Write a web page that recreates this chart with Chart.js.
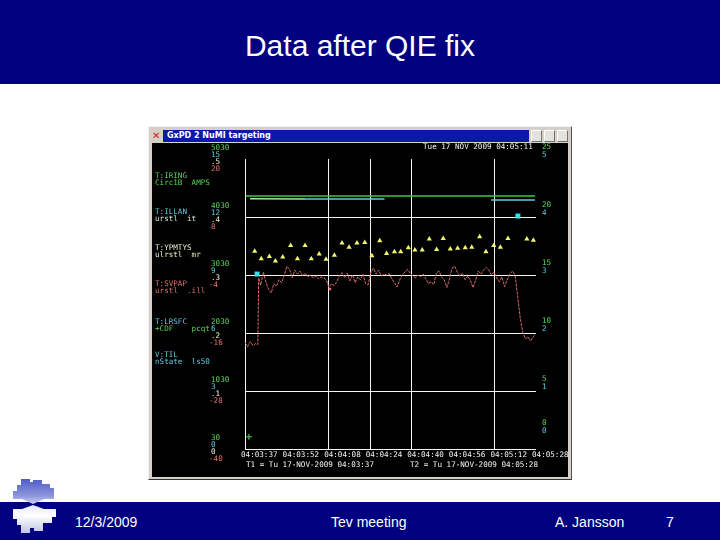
<!DOCTYPE html>
<html>
<head>
<meta charset="utf-8">
<title>Data after QIE fix</title>
<script src="https://cdn.jsdelivr.net/npm/chart.js@4.4.1/dist/chart.umd.min.js"></script>
<style>
    html, body { margin: 0; padding: 0; background: #fff; }
    #slide { position: relative; width: 720px; height: 540px; overflow: hidden; background: #fff;
             font-family: "Liberation Sans", Arial, sans-serif; }
    #header { position: absolute; left: 0; top: 0; width: 720px; height: 84px; background: #000080; }
    #header h1 { margin: 0; position: absolute; left: 0; top: 29px; width: 720px; text-align: center;
                 color: #fff; font-weight: normal; font-size: 30px; line-height: 34px; }
    #footer { position: absolute; left: 0; top: 502px; width: 720px; height: 38px; background: #000080;
              color: #fff; font-size: 14px; line-height: 38px; }
    #footer span { position: absolute; top: 1px; }
    #logo { position: absolute; left: 6px; top: 479px; }
    #window { position: absolute; left: 148px; top: 126px; width: 422px; height: 352px; background: #d4d0c8;
              border: 1px solid #f4f4f4; border-right-color: #505050; border-bottom-color: #303030; }
    #titlebar { position: absolute; left: 14px; top: 3px; width: 366px; height: 12px; background: #0c18a8;
                color: #fff; font: bold 8px "DejaVu Sans", sans-serif; line-height: 12px; }
    #titlebar span { margin-left: 4px; }
    #closeicon { position: absolute; left: 3px; top: 3px; width: 10px; height: 12px; color: #d02020;
                 font: bold 10px "DejaVu Sans", sans-serif; line-height: 12px; }
    .wbtn { position: absolute; top: 3px; width: 9px; height: 10px; background: #e4e2dc;
            border: 1px solid #fff; border-right-color: #707070; border-bottom-color: #707070; }
    #plotCanvas { position: absolute; left: 3px; top: 16px; }
</style>
</head>
<body>
<div id="slide">
    <div id="header"><h1>Data after QIE fix</h1></div>
    <div id="footer">
        <span style="left:75px">12/3/2009</span>
        <span style="left:331px">Tev meeting</span>
        <span style="left:555px">A. Jansson</span>
        <span style="left:666px">7</span>
    </div>
    <svg id="logo" width="56" height="56" viewBox="0 0 56 56">
        <defs>
            <linearGradient id="lg" x1="0" y1="0" x2="0" y2="56" gradientUnits="userSpaceOnUse">
                <stop offset="0" stop-color="#4f5cc6"/>
                <stop offset="0.3" stop-color="#8c96dc"/>
                <stop offset="0.5" stop-color="#e8eaf8"/>
                <stop offset="0.65" stop-color="#ffffff"/>
                <stop offset="1" stop-color="#b8bee0"/>
            </linearGradient>
        </defs>
        <path fill="url(#lg)" d="M15,0 L24,0 L24,3 L27,3 L27,1 L36,1 L36,5 L44,5 L44,9 L48,9 L48,20 L38,20 L27,25 L16,20 L7,20 L7,12 L11,12 L11,6 L15,6 Z"/>
        <path fill="url(#lg)" d="M7,30 L16,30 L27,26 L38,30 L50,30 L50,38 L46,38 L46,44 L37,44 L37,52 L28,52 L28,49 L24,49 L24,54 L15,54 L15,46 L11,46 L11,40 L7,40 Z"/>
    </svg>
    <div id="window">
        <div id="closeicon">✕</div>
        <div id="titlebar"><span>GxPD 2 NuMI targeting</span></div>
        <div class="wbtn" style="left:382px"></div>
        <div class="wbtn" style="left:395px"></div>
        <div class="wbtn" style="left:408px"></div>
        <canvas id="plotCanvas" width="416" height="334"></canvas>
    </div>
</div>

<script>
// Plot span: T1 = 04:03:37 to T2 = 04:05:28 (seconds from T1)
const spanSeconds = 111;
const timeTickLabels = ['04:03:37', '04:03:52', '04:04:08', '04:04:24', '04:04:40', '04:04:56', '04:05:12', '04:05:28'];
const gridTimeIndex = [0, 2, 3, 4, 6];

// Left axis scales, one per pen (top to bottom)
const greenTickValues = [5030, 4030, 3030, 2030, 1030, 30];
const cyanTickValues = [15, 12, 9, 6, 3, 0];
const yellowTickValues = [0.5, 0.4, 0.3, 0.2, 0.1, 0];
const redTickValues = [20, 8, -4, -16, -28, -40];
const greenTickLabels = ['5030', '4030', '3030', '2030', '1030', '30'];
const cyanTickLabels = ['15', '12', '9', '6', '3', '0'];
const yellowTickLabels = ['.5', '.4', '.3', '.2', '.1', '0'];
const redTickLabels = ['20', '8', '-4', '-16', '-28', '-40'];

// Right axis labels
const rightGreenLabels = ['25', '20', '15', '10', '5', '0'];
const rightCyanLabels = ['5', '4', '3', '2', '1', '0'];

// Channel names shown on the left
const channelNames = [
    ['T:IRING', 'Circ1B  AMPS'],
    ['T:ILLAN', 'urstl  it'],
    ['T:YPMTYS', 'ulrstl  mr'],
    ['T:SVPAP', 'urstl  .ill'],
    ['T:LRSFC', '+CDF    pcqt'],
    ['V:TIL', 'nState  ls50']
];

// Green pen (flat line)
const greenTimes = [0.3, 110.6];
const greenValues = [4392, 4392];

// Cyan pen (flat line with a gap)
const cyanTimes = [1.9, 22.9, 53.2, null, 93.9, 110.6];
const cyanValues = [12.95, 12.93, 12.93, null, 12.88, 12.88];

// Cyan markers
const cyanDotTimes = [4.6, 104.1];
const cyanDotValues = [9.05, 12.05];

// Yellow triangles
const yellowTimes = [3.7, 6.2, 9.3, 11.6, 14.4, 17.4, 20.0, 22.9, 25.3, 28.3, 30.9, 34.1, 37.0, 39.7,
    42.7, 45.7, 48.4, 51.4, 54.0, 57.0, 59.4, 62.3, 64.8, 67.6, 70.3, 73.1, 75.6, 78.3, 81.1, 84.0,
    86.5, 89.5, 91.9, 94.9, 97.4, 100.3, 107.5, 110.0];
const yellowValues = [0.341, 0.328, 0.332, 0.324, 0.331, 0.351, 0.328, 0.351, 0.328, 0.336, 0.327,
    0.334, 0.355, 0.348, 0.355, 0.356, 0.333, 0.359, 0.337, 0.340, 0.340, 0.347, 0.343, 0.343, 0.362,
    0.344, 0.363, 0.345, 0.346, 0.347, 0.348, 0.366, 0.340, 0.351, 0.348, 0.363, 0.362, 0.360];

// Red pen (noisy trace)
const redTimes = [0, 1, 2, 3, 4, 4.9, 5.2, 6, 7, 8, 9, 10, 11, 12, 13, 14, 15, 16, 17, 18, 19, 20,
    21, 22, 23, 24, 25, 26, 27, 28, 29, 30, 31, 32, 33, 34, 35, 36, 37, 38, 39, 40, 41, 42, 43, 44,
    45, 46, 47, 48, 49, 50, 51, 52, 53, 54, 55, 56, 57, 58, 59, 60, 61, 62, 63, 64, 65, 66, 67, 68,
    69, 70, 71, 72, 73, 74, 75, 76, 77, 78, 79, 80, 81, 82, 83, 84, 85, 86, 87, 88, 89, 90, 91, 92,
    93, 94, 95, 96, 97, 98, 99, 100, 101, 102, 103, 104, 105, 106, 107, 108, 109, 110, 110.6];
const redValues = [-18.0, -18.8, -17.8, -18.6, -18.2, -18.4, -4.6, -6.1, -3.4, -5.5, -7.0, -7.7,
    -5.8, -6.3, -5.0, -5.6, -4.0, -2.2, -2.8, -4.6, -3.0, -3.8, -3.2, -4.2, -3.6, -4.4, -4.0, -4.6,
    -4.2, -4.8, -4.4, -4.6, -5.0, -6.5, -5.8, -6.2, -5.4, -4.2, -3.5, -4.6, -3.6, -5.2, -4.0, -5.6,
    -4.4, -5.0, -3.8, -5.8, -6.0, -3.4, -2.6, -3.8, -3.0, -4.2, -3.8, -4.0, -3.7, -4.8, -5.6, -6.5,
    -5.0, -4.0, -3.4, -2.8, -3.6, -4.2, -4.6, -4.0, -4.4, -3.8, -4.8, -5.8, -5.4, -6.0, -3.6, -3.2,
    -4.4, -5.0, -6.6, -4.8, -2.6, -2.2, -3.4, -4.2, -3.6, -5.0, -4.2, -5.2, -6.6, -5.0, -3.2, -3.8,
    -3.0, -2.4, -3.0, -4.0, -3.4, -4.6, -5.4, -4.4, -6.4, -5.0, -3.8, -3.2, -4.0, -8.4, -13.0, -16.0,
    -17.2, -16.8, -17.6, -16.8, -16.4];

// Single markers
const redMarkTimes = [32.4];
const redMarkValues = [-6.9];
const greenMarkTimes = [1.5];
const greenMarkValues = [240];

const COLORS = {
    green: '#5ad45a',
    greenLine: '#3cc83c',
    cyan: '#5ccce0',
    cyanDot: '#3ce0ec',
    paleGreen: '#9ee6a8',
    yellow: '#f4f470',
    yellowText: '#eeeec8',
    red: '#e27070',
    redLine: '#d86a6a',
    white: '#f4f4f4'
};
const MONO = '7.6px "DejaVu Sans Mono", monospace';

function toPoints(times, values) {
    return times.map((t, i) => (t === null ? { x: null, y: null } : { x: t, y: values[i] }));
}

// Black background, grid and ACNET-style labels
const acnetPlugin = {
    id: 'acnet',
    beforeDraw(chart) {
        const ctx = chart.ctx;
        ctx.save();
        ctx.fillStyle = '#000';
        ctx.fillRect(0, 0, chart.width, chart.height);
        ctx.restore();
    },
    beforeDatasetsDraw(chart) {
        const { ctx, chartArea: area, scales } = chart;
        ctx.save();
        ctx.strokeStyle = COLORS.white;
        ctx.lineWidth = 1;
        ctx.beginPath();
        gridTimeIndex.forEach(i => {
            const x = Math.round(scales.x.getPixelForValue(i * spanSeconds / 7)) + 0.5;
            ctx.moveTo(x, area.top);
            ctx.lineTo(x, area.bottom);
        });
        for (let i = 1; i < redTickValues.length; i++) {
            const y = Math.round(scales.yR.getPixelForValue(redTickValues[i])) + 0.5;
            ctx.moveTo(area.left, y);
            ctx.lineTo(area.right, y);
        }
        ctx.stroke();
        ctx.restore();
    },
    afterDatasetsDraw(chart) {
        const { ctx, chartArea: area, scales } = chart;
        ctx.save();
        ctx.font = MONO;
        ctx.textBaseline = 'middle';
        ctx.textAlign = 'left';

        // Per-row axis values on the left
        const valueX = 59;
        for (let i = 0; i < redTickValues.length; i++) {
            ctx.fillStyle = COLORS.green;
            ctx.fillText(greenTickLabels[i], valueX, scales.yG.getPixelForValue(greenTickValues[i]) - 11);
            ctx.fillStyle = COLORS.cyan;
            ctx.fillText(cyanTickLabels[i], valueX, scales.yC.getPixelForValue(cyanTickValues[i]) - 3.5);
            ctx.fillStyle = COLORS.yellowText;
            ctx.fillText(yellowTickLabels[i], valueX, scales.yY.getPixelForValue(yellowTickValues[i]) + 3.5);
            ctx.fillStyle = COLORS.red;
            const rl = redTickLabels[i];
            ctx.fillText(rl, rl.startsWith('-') ? valueX - 2 : valueX, scales.yR.getPixelForValue(redTickValues[i]) + 10.5);
        }

        // Right side labels
        const rightX = area.right + 6;
        for (let i = 0; i < rightGreenLabels.length; i++) {
            const base = scales.yR.getPixelForValue(redTickValues[i]) - (i === rightGreenLabels.length - 1 ? 14 : 0);
            ctx.fillStyle = COLORS.green;
            ctx.fillText(rightGreenLabels[i], rightX, base - 11.5);
            ctx.fillStyle = COLORS.cyan;
            ctx.fillText(rightCyanLabels[i], rightX, base - 3.5);
        }

        // Channel names
        const nameY = [33, 69, 105, 141, 179, 212];
        const nameColors = [
            [COLORS.green, COLORS.green],
            [COLORS.cyan, '#d8e8e8'],
            [COLORS.yellowText, COLORS.yellowText],
            [COLORS.red, COLORS.red],
            [COLORS.cyan, COLORS.green],
            [COLORS.cyan, COLORS.cyan]
        ];
        channelNames.forEach((lines, i) => {
            ctx.fillStyle = nameColors[i][0];
            ctx.fillText(lines[0], 3, nameY[i]);
            ctx.fillStyle = nameColors[i][1];
            ctx.fillText(lines[1], 3, nameY[i] + 7.5);
        });

        // Time axis labels
        ctx.fillStyle = COLORS.white;
        timeTickLabels.forEach((lbl, i) => {
            const x = scales.x.getPixelForValue(i * spanSeconds / 7) - 4;
            ctx.fillText(lbl, x, area.bottom + 6);
        });
        ctx.fillText('T1 = Tu 17-NOV-2009 04:03:37', area.left + 1, area.bottom + 16);
        ctx.fillText('T2 = Tu 17-NOV-2009 04:05:28', area.left + 165, area.bottom + 16);

        // Current time, top right
        ctx.fillText('Tue 17 NOV 2009 04:05:11', area.right - 113, 4);
        ctx.restore();
    }
};

function initializePlot() {
    const ctx = document.getElementById('plotCanvas').getContext('2d');

    new Chart(ctx, {
        type: 'line',
        data: {
            datasets: [
                {
                    label: 'green',
                    data: toPoints(greenTimes, greenValues),
                    yAxisID: 'yG',
                    borderColor: COLORS.greenLine,
                    borderWidth: 1.5,
                    pointRadius: 0
                },
                {
                    label: 'cyan',
                    data: toPoints(cyanTimes, cyanValues),
                    yAxisID: 'yC',
                    borderColor: COLORS.cyan,
                    borderWidth: 1.5,
                    pointRadius: 0,
                    spanGaps: false,
                    segment: {
                        borderColor: c => (c.p0.parsed.x < 22 ? COLORS.paleGreen : COLORS.cyan)
                    }
                },
                {
                    label: 'red',
                    data: toPoints(redTimes, redValues),
                    yAxisID: 'yR',
                    borderColor: COLORS.redLine,
                    borderWidth: 1,
                    borderDash: [3, 1],
                    pointRadius: 0,
                    tension: 0
                },
                {
                    label: 'yellow',
                    data: toPoints(yellowTimes, yellowValues),
                    yAxisID: 'yY',
                    showLine: false,
                    pointStyle: 'triangle',
                    pointRadius: 3,
                    backgroundColor: COLORS.yellow,
                    borderColor: COLORS.yellow,
                    borderWidth: 0
                },
                {
                    label: 'cyan markers',
                    data: toPoints(cyanDotTimes, cyanDotValues),
                    yAxisID: 'yC',
                    showLine: false,
                    pointStyle: 'rect',
                    pointRadius: 3.5,
                    backgroundColor: COLORS.cyanDot,
                    borderColor: COLORS.cyanDot,
                    borderWidth: 0
                },
                {
                    label: 'red marker',
                    data: toPoints(redMarkTimes, redMarkValues),
                    yAxisID: 'yR',
                    showLine: false,
                    pointStyle: 'rect',
                    pointRadius: 1.8,
                    backgroundColor: COLORS.red,
                    borderColor: COLORS.red,
                    borderWidth: 0
                },
                {
                    label: 'green marker',
                    data: toPoints(greenMarkTimes, greenMarkValues),
                    yAxisID: 'yG',
                    showLine: false,
                    pointStyle: 'cross',
                    pointRadius: 3,
                    borderColor: COLORS.green,
                    borderWidth: 1
                }
            ]
        },
        options: {
            responsive: false,
            animation: false,
            events: [],
            layout: {
                padding: { left: 93, top: 16, right: 32, bottom: 28 }
            },
            plugins: {
                legend: { display: false },
                tooltip: { enabled: false }
            },
            scales: {
                x: { type: 'linear', min: 0, max: spanSeconds, display: false },
                yG: { type: 'linear', min: 30, max: 5030, display: false },
                yC: { type: 'linear', min: 0, max: 15, display: false },
                yY: { type: 'linear', min: 0, max: 0.5, display: false },
                yR: { type: 'linear', min: -40, max: 20, display: false }
            }
        },
        plugins: [acnetPlugin]
    });
}

initializePlot();
</script>
</body>
</html>
